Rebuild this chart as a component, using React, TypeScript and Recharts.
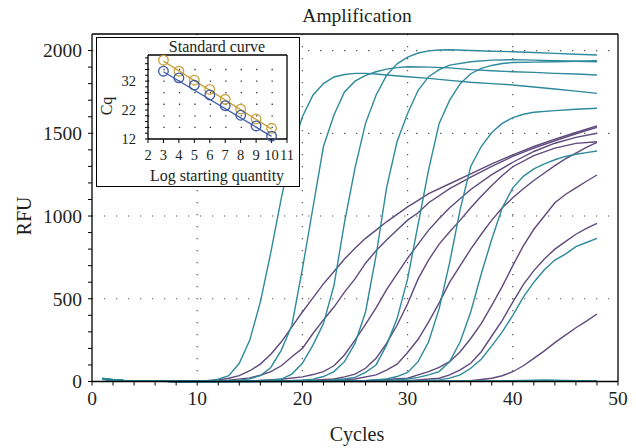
import React from 'react';
import { LineChart, Line, XAxis, YAxis, CartesianGrid, ReferenceLine } from 'recharts';

// amplification curves: [cycle, RFU]
const T1 = [[1,18],[2,11],[3,6],[5,3],[8,1],[10,0],[11,4],[12,14],[13,35],[14,110],[15,250],[16,480],[17,780],[18,1110],[19,1400],[20,1600],[21,1730],[22,1800],[23,1840],[24,1855],[25,1862],[26,1862],[27,1858],[28,1852],[30,1842],[32,1832],[34,1820],[36,1808],[38,1800],[40,1792],[42,1780],[44,1768],[46,1755],[48,1741]];
const T2 = [[1,16],[2,10],[3,5],[5,2],[8,0],[12,2],[14,8],[15,16],[16,35],[17,85],[18,190],[19,340],[20,680],[21,1050],[22,1420],[23,1610],[24,1750],[25,1815],[26,1850],[27,1872],[28,1888],[29,1897],[30,1902],[32,1900],[34,1895],[36,1885],[38,1878],[40,1872],[42,1868],[44,1862],[46,1858],[48,1852]];
const T3 = [[1,15],[2,9],[3,5],[5,2],[9,0],[15,2],[17,8],[18,15],[19,45],[20,110],[21,220],[22,350],[23,580],[24,960],[25,1290],[26,1560],[27,1730],[28,1850],[29,1920],[30,1960],[31,1985],[32,1998],[33,2003],[34,2005],[36,2000],[38,1996],[40,1993],[42,1988],[44,1983],[46,1978],[48,1973]];
const T4 = [[1,17],[2,10],[3,6],[5,2],[9,0],[18,3],[20,8],[21,14],[22,30],[23,60],[24,120],[25,230],[26,420],[27,760],[28,1170],[29,1450],[30,1620],[31,1760],[32,1842],[33,1885],[34,1912],[36,1932],[38,1942],[40,1945],[42,1942],[44,1938],[46,1935],[48,1932]];
const T5 = [[1,15],[2,9],[3,5],[5,2],[9,0],[22,5],[24,15],[25,25],[26,55],[27,100],[28,220],[29,380],[30,620],[31,950],[32,1280],[33,1560],[34,1700],[35,1800],[36,1860],[37,1892],[38,1910],[39,1922],[40,1928],[42,1930],[44,1932],[46,1935],[48,1938]];
const T6 = [[1,16],[2,10],[3,5],[5,2],[9,0],[26,5],[28,15],[29,30],[30,55],[31,120],[32,240],[33,440],[34,720],[35,1040],[36,1300],[37,1420],[38,1505],[39,1560],[40,1595],[41,1615],[42,1627],[44,1637],[46,1645],[48,1651]];
const T7 = [[1,15],[2,9],[3,5],[5,2],[9,0],[28,5],[30,15],[31,25],[32,40],[33,60],[34,120],[35,240],[36,420],[37,650],[38,860],[39,1050],[40,1170],[41,1240],[42,1285],[43,1315],[44,1340],[45,1360],[46,1373],[47,1383],[48,1393]];
const T8 = [[1,14],[2,9],[3,5],[5,2],[9,0],[30,3],[32,6],[33,10],[34,20],[35,40],[36,80],[37,135],[38,215],[39,300],[40,400],[41,510],[42,600],[43,675],[44,734],[45,770],[46,815],[47,840],[48,865]];
const N1 = [[1,20],[2,12],[3,7],[5,3],[8,1],[12,0],[20,1],[30,2],[38,3],[41,6],[43,10],[45,7],[48,4]];
const N2 = [[1,14],[2,8],[4,4],[7,1],[12,0],[25,1],[35,2],[42,4],[48,3]];

const P1 = [[1,17],[2,10],[3,6],[5,2],[8,0],[10,2],[12,10],[13,20],[14,35],[15,65],[16,105],[17,165],[18,240],[19,330],[20,420],[21,505],[22,590],[23,665],[24,740],[25,805],[26,865],[27,915],[28,965],[29,1010],[30,1055],[31,1095],[32,1135],[34,1195],[36,1255],[38,1315],[40,1370],[42,1420],[44,1465],[46,1505],[48,1544]];
const P2 = [[1,15],[2,9],[3,5],[5,2],[9,0],[13,8],[15,22],[16,38],[17,60],[18,95],[19,150],[20,200],[21,290],[22,372],[23,450],[24,540],[25,620],[26,715],[27,790],[28,855],[29,915],[30,975],[31,1020],[32,1080],[34,1165],[36,1235],[38,1300],[40,1360],[42,1410],[44,1455],[46,1497],[48,1536]];
const P3 = [[1,16],[2,10],[3,5],[5,2],[9,0],[15,4],[18,14],[20,28],[21,42],[22,60],[23,95],[24,160],[25,250],[26,345],[27,445],[28,555],[29,650],[30,745],[31,830],[32,915],[33,985],[34,1050],[36,1160],[38,1250],[40,1325],[42,1390],[44,1440],[46,1475],[48,1500]];
const P4 = [[1,15],[2,9],[3,5],[5,2],[9,0],[18,3],[21,8],[23,15],[24,28],[25,45],[26,80],[27,140],[28,230],[29,340],[30,470],[31,620],[32,735],[33,830],[34,905],[35,975],[36,1050],[37,1120],[38,1185],[39,1245],[40,1298],[42,1365],[44,1410],[46,1439],[48,1449]];
const P5 = [[1,16],[2,10],[3,5],[5,2],[9,0],[20,2],[25,15],[27,40],[28,69],[29,105],[30,175],[31,255],[32,360],[33,475],[34,600],[35,700],[36,800],[37,890],[38,975],[39,1050],[40,1110],[41,1165],[42,1215],[43,1260],[44,1305],[45,1345],[46,1380],[47,1415],[48,1445]];
const P6 = [[1,15],[2,9],[3,5],[5,2],[9,0],[25,2],[30,20],[31,40],[32,60],[33,85],[34,120],[35,180],[36,260],[37,350],[38,460],[39,575],[40,700],[41,820],[42,920],[43,1000],[44,1080],[45,1130],[46,1170],[47,1210],[48,1248]];
const P7 = [[1,14],[2,9],[3,5],[5,2],[9,0],[28,2],[30,5],[33,20],[34,40],[35,70],[36,110],[37,180],[38,275],[39,370],[40,480],[41,585],[42,670],[43,740],[44,800],[45,845],[46,890],[47,925],[48,956]];
const P8 = [[1,15],[2,9],[3,5],[5,2],[9,0],[30,0],[36,5],[37,12],[38,20],[39,35],[40,59],[41,95],[42,140],[43,185],[44,235],[45,280],[46,325],[47,365],[48,408]];

const tealCurves = [N1, N2, T1, T2, T3, T4, T5, T6, T7, T8];
const purpleCurves = [P1, P2, P3, P4, P5, P6, P7, P8];

const xTicks = [0,2,4,6,8,10,12,14,16,18,20,22,24,26,28,30,32,34,36,38,40,42,44,46,48,50];
const yTicks = [0,100,200,300,400,500,600,700,800,900,1000,1100,1200,1300,1400,1500,1600,1700,1800,1900,2000];

// standard curve inset
const logQty = [3, 4, 5, 6, 7, 8, 9, 10];
const cqGold = [39.2, 35.4, 32.3, 29.1, 25.7, 22.3, 18.9, 15.7];
const cqBlue = [35.4, 33.1, 30.6, 27.2, 23.5, 20.2, 16.5, 13.0];
const fitGold = [[3, 38.9], [10, 15.4]];
const fitBlue = [[3, 35.2], [10, 12.9]];
const insetXTicks = [2,3,4,5,6,7,8,9,10,11];
const insetYTicks = [12,14,16,18,20,22,24,26,28,30,32,34,36,38,40];

const TEAL = '#2e8a9b';
const PURPLE = '#5e4a7c';
const GOLD = '#c9a23c';
const BLUE = '#3c5aa5';
const FONT = '"Liberation Serif", "Times New Roman", serif';
const INK = '#231f20';

const pts = (a: number[][]) => a.map(([c, v]) => ({ c, v }));

const txt = (s: string, x: number, y: number, size: number, rot = 0) => (
  <div style={{ position: 'absolute', left: x, top: y, transform: `translate(-50%,-50%) rotate(${rot}deg)`, fontSize: size, lineHeight: 1, whiteSpace: 'nowrap', color: INK, fontFamily: FONT }}>{s}</div>
);

const axisLine = { stroke: '#000', strokeWidth: 1.3 };

const App: React.FC = () => (
  <div style={{ position: 'absolute', left: 0, top: 0, width: 636, height: 448, background: '#fff', fontFamily: FONT }}>
    <LineChart width={636} height={448} margin={{ top: 34, right: 18, bottom: 0, left: 0 }}>
      <CartesianGrid horizontalValues={[500, 1000, 1500, 2000]} verticalValues={[10, 20, 30, 40]} stroke="#555" strokeWidth={1.2} strokeDasharray="1.3 10.7" />
      <XAxis type="number" dataKey="c" domain={[0, 50]} ticks={xTicks} interval={0} height={66.5}
        tickFormatter={(v: number) => (v % 10 === 0 ? String(v) : '')}
        tickSize={4} tickMargin={6} axisLine={axisLine} tickLine={{ stroke: '#000' }}
        tick={{ fontSize: 19.5, fill: INK, fontFamily: FONT }} />
      <YAxis type="number" domain={[0, 2100]} ticks={yTicks} interval={0} width={92}
        tickFormatter={(v: number) => (v % 500 === 0 ? String(v) : '')}
        tickSize={4} tickMargin={6} axisLine={axisLine} tickLine={{ stroke: '#000' }}
        tick={{ fontSize: 19.5, fill: INK, fontFamily: FONT }} />
      <ReferenceLine y={2100} stroke="#000" strokeWidth={1.3} />
      <ReferenceLine x={50} stroke="#000" strokeWidth={1.3} />
      {purpleCurves.map((d, i) => (
        <Line key={'p' + i} data={pts(d)} dataKey="v" type="linear" stroke={PURPLE} strokeWidth={1.4} dot={false} isAnimationActive={false} />
      ))}
      {tealCurves.map((d, i) => (
        <Line key={'t' + i} data={pts(d)} dataKey="v" type="linear" stroke={TEAL} strokeWidth={1.4} dot={false} isAnimationActive={false} />
      ))}
    </LineChart>

    {txt('Amplification', 357, 16, 19.5)}
    {txt('Cycles', 357, 434, 20)}
    {txt('RFU', 24, 216, 20, -90)}

    <div style={{ position: 'absolute', left: 96, top: 37, width: 204, height: 150, background: '#fff' }}>
      <LineChart width={204} height={150} margin={{ top: 18, right: 13, bottom: 0, left: 0 }}>
        <CartesianGrid vertical={false} horizontalValues={[16, 20, 24, 28, 32, 36]} stroke="#333" strokeWidth={1.3} strokeDasharray="1.3 14.14" />
        <XAxis type="number" dataKey="c" domain={[2, 11]} ticks={insetXTicks} interval={0} height={48}
          tickSize={4} tickMargin={7} axisLine={axisLine} tickLine={{ stroke: '#000' }}
          tick={{ fontSize: 14.5, fill: INK, fontFamily: FONT }} />
        <YAxis type="number" domain={[12, 41]} ticks={insetYTicks} interval={0} width={52}
          tickFormatter={(v: number) => ((v - 12) % 10 === 0 ? String(v) : '')}
          tickSize={3} tickMargin={9} axisLine={axisLine} tickLine={{ stroke: '#000' }}
          tick={{ fontSize: 14.5, fill: INK, fontFamily: FONT }} />
        <ReferenceLine y={41} stroke="#000" strokeWidth={1.3} />
        <ReferenceLine x={11} stroke="#000" strokeWidth={1.3} />
        <Line data={pts(fitGold)} dataKey="v" stroke={GOLD} strokeWidth={1.3} dot={false} isAnimationActive={false} />
        <Line data={pts(fitBlue)} dataKey="v" stroke={BLUE} strokeWidth={1.3} dot={false} isAnimationActive={false} />
        <Line data={logQty.map((c, i) => ({ c, v: cqGold[i] }))} dataKey="v" stroke="none"
          dot={{ r: 4.8, stroke: GOLD, strokeWidth: 1.3, fill: 'none' }} isAnimationActive={false} />
        <Line data={logQty.map((c, i) => ({ c, v: cqBlue[i] }))} dataKey="v" stroke="none"
          dot={{ r: 4.8, stroke: BLUE, strokeWidth: 1.3, fill: 'none' }} isAnimationActive={false} />
      </LineChart>
      {txt('Standard curve', 121, 10, 16)}
      {txt('Cq', 11, 69, 16, -90)}
      {txt('Log starting quantity', 121, 139, 16)}
      <div style={{ position: 'absolute', left: 0, top: 0, width: 204, height: 150, boxSizing: 'border-box', border: '1.5px solid #000', pointerEvents: 'none' }} />
    </div>
  </div>
);

export default App;
